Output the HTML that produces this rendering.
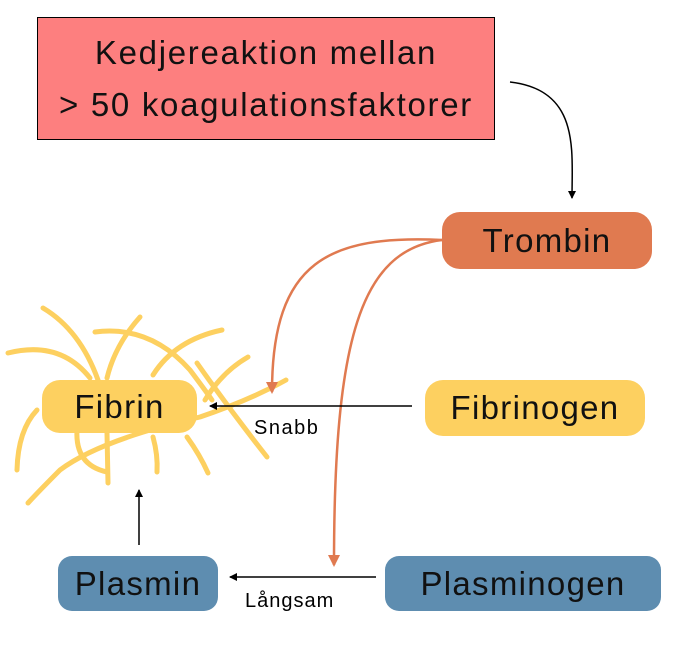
<!DOCTYPE html>
<html><head><style>
body{margin:0;background:#fff;width:686px;height:646px;position:relative;overflow:hidden;font-family:"Liberation Sans",sans-serif}
.b{position:absolute;display:flex;align-items:center;justify-content:center;color:#111;font-size:33px;letter-spacing:1.3px;text-align:center}
</style></head><body>
<svg width="686" height="646" style="position:absolute;left:0;top:0">
<defs>
<marker id="k" markerWidth="8" markerHeight="8" refX="7" refY="4" orient="auto" markerUnits="userSpaceOnUse"><path d="M0,0L8,4L0,8z" fill="#000"/></marker>
<marker id="o" markerWidth="12" markerHeight="12" refX="10" refY="6" orient="auto" markerUnits="userSpaceOnUse"><path d="M0,0L12,6L0,12z" fill="#e07a50"/></marker>
</defs>
<g fill="none" stroke="#fdd060" stroke-width="5" stroke-linecap="round">
<path d="M43,308Q80,330 98,380"/>
<path d="M8,353Q60,340 90,378"/>
<path d="M95,332Q150,325 190,370Q205,390 212,400"/>
<path d="M140,317Q115,345 107,378"/>
<path d="M222,330Q175,340 153,375"/>
<path d="M248,357Q222,372 205,400"/>
<path d="M286,380Q250,400 200,417Q100,440 60,470Q40,490 28,503"/>
<path d="M197,363Q230,410 267,457"/>
<path d="M37,410Q18,430 17,470"/>
<path d="M77,430Q75,465 107,472"/>
<path d="M107,433L108,483"/>
<path d="M153,437Q158,455 157,472"/>
<path d="M187,437Q200,455 208,473"/>
</g>
<path d="M510,82C580,90 572,150 572,198" fill="none" stroke="#000" stroke-width="1.5" marker-end="url(#k)"/>
<path d="M442,240C330,235 272,260 272,392" fill="none" stroke="#e07a50" stroke-width="2.5" marker-end="url(#o)"/>
<path d="M442,240C360,250 334,340 334,565" fill="none" stroke="#e07a50" stroke-width="2.5" marker-end="url(#o)"/>
<path d="M412,406L210,406" stroke="#000" stroke-width="1.5" marker-end="url(#k)"/>
<path d="M376,577L230,577" stroke="#000" stroke-width="1.5" marker-end="url(#k)"/>
<path d="M139,545L139,490" stroke="#000" stroke-width="1.5" marker-end="url(#k)"/>
<text x="254" y="434" font-size="20" letter-spacing="1.5" font-family="Liberation Sans,sans-serif">Snabb</text>
<text x="245" y="607" font-size="20" letter-spacing="1" font-family="Liberation Sans,sans-serif">Långsam</text>
</svg>
<div class="b" style="left:37px;top:17px;width:456px;height:121px;background:#fd7f7f;border:1px solid #000;line-height:52px;font-size:33px;letter-spacing:1.7px">Kedjereaktion mellan<br>&gt; 50 koagulationsfaktorer</div>
<div class="b" style="left:442px;top:212px;width:210px;height:57px;background:#e07a50;border-radius:18px">Trombin</div>
<div class="b" style="left:425px;top:380px;width:220px;height:56px;background:#fdd060;border-radius:18px">Fibrinogen</div>
<div class="b" style="left:42px;top:380px;width:155px;height:53px;background:#fdd060;border-radius:18px">Fibrin</div>
<div class="b" style="left:58px;top:556px;width:160px;height:55px;background:#5e8db0;border-radius:14px">Plasmin</div>
<div class="b" style="left:385px;top:556px;width:276px;height:55px;background:#5e8db0;border-radius:14px">Plasminogen</div>
</body></html>
